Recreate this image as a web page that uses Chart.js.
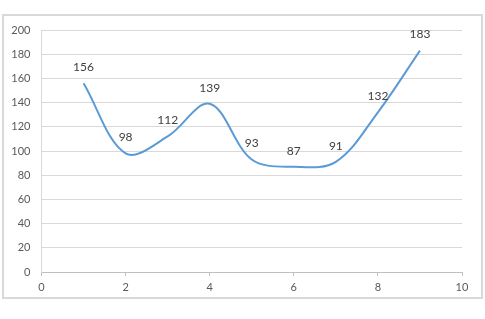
<!DOCTYPE html>
<html>
<head>
<meta charset="utf-8">
<script src="https://cdn.jsdelivr.net/npm/chart.js@4/dist/chart.umd.min.js"></script>
<style>
    html, body { margin: 0; padding: 0; background: #fff; }
    #wrap { position: absolute; left: 0; top: 0; width: 485px; height: 319px; }
</style>
</head>
<body>
<div id="wrap"><canvas id="lineChart" width="485" height="319"></canvas></div>
<script>
const xValues = [1, 2, 3, 4, 5, 6, 7, 8, 9];
const yValues = [156, 98, 112, 139, 93, 87, 91, 132, 183];
const xTicks = [0, 2, 4, 6, 8, 10];
const yTicks = [0, 20, 40, 60, 80, 100, 120, 140, 160, 180, 200];

// outer frame like the spreadsheet chart border
const framePlugin = {
    id: 'frame',
    beforeDraw: function (chart) {
        const c = chart.ctx;
        c.save();
        c.fillStyle = '#fff';
        c.fillRect(0, 0, chart.width, chart.height);
        c.strokeStyle = '#d9d9d9';
        c.lineWidth = 2;
        c.strokeRect(3, 15, 479, 283);
        c.restore();
    }
};

// value labels above each point
const labelPlugin = {
    id: 'pointLabels',
    afterDatasetsDraw: function (chart) {
        const c = chart.ctx;
        const meta = chart.getDatasetMeta(0);
        c.save();
        c.font = '12px Lato, "Open Sans", sans-serif';
        c.fillStyle = '#404040';
        c.textAlign = 'center';
        c.textBaseline = 'middle';
        meta.data.forEach(function (pt, i) {
            c.fillText(String(yValues[i]), pt.x, pt.y - 16);
        });
        c.restore();
    }
};

const ctx = document.getElementById('lineChart').getContext('2d');

new Chart(ctx, {
    type: 'scatter',
    data: {
        datasets: [{
            data: xValues.map((x, i) => ({ x: x, y: yValues[i] })),
            showLine: true,
            borderColor: '#5b9bd5',
            borderWidth: 2,
            pointRadius: 0,
            tension: 0.35,
            fill: false
        }]
    },
    options: {
        responsive: false,
        animation: false,
        layout: {
            padding: { left: 0, top: 30, right: 23, bottom: 0 }
        },
        plugins: {
            legend: { display: false },
            tooltip: { enabled: false }
        },
        scales: {
            x: {
                type: 'linear',
                min: 0,
                max: 10,
                afterBuildTicks: function (scale) {
                    scale.ticks = xTicks.map(v => ({ value: v }));
                },
                afterFit: function (scale) {
                    scale.height = 47;
                },
                grid: {
                    drawOnChartArea: false,
                    drawTicks: true,
                    tickLength: 4,
                    color: '#bfbfbf'
                },
                border: { display: true, color: '#bfbfbf' },
                ticks: {
                    padding: 5,
                    color: '#595959',
                    font: { size: 11, family: 'Lato, "Open Sans", sans-serif' }
                }
            },
            y: {
                min: 0,
                max: 200,
                afterBuildTicks: function (scale) {
                    scale.ticks = yTicks.map(v => ({ value: v }));
                },
                afterFit: function (scale) {
                    scale.width = 41.5;
                },
                grid: {
                    drawTicks: false,
                    color: '#d9d9d9'
                },
                border: { display: true, color: '#d9d9d9' },
                ticks: {
                    padding: 11,
                    color: '#595959',
                    font: { size: 11, family: 'Lato, "Open Sans", sans-serif' }
                }
            }
        }
    },
    plugins: [framePlugin, labelPlugin]
});
</script>
</body>
</html>
